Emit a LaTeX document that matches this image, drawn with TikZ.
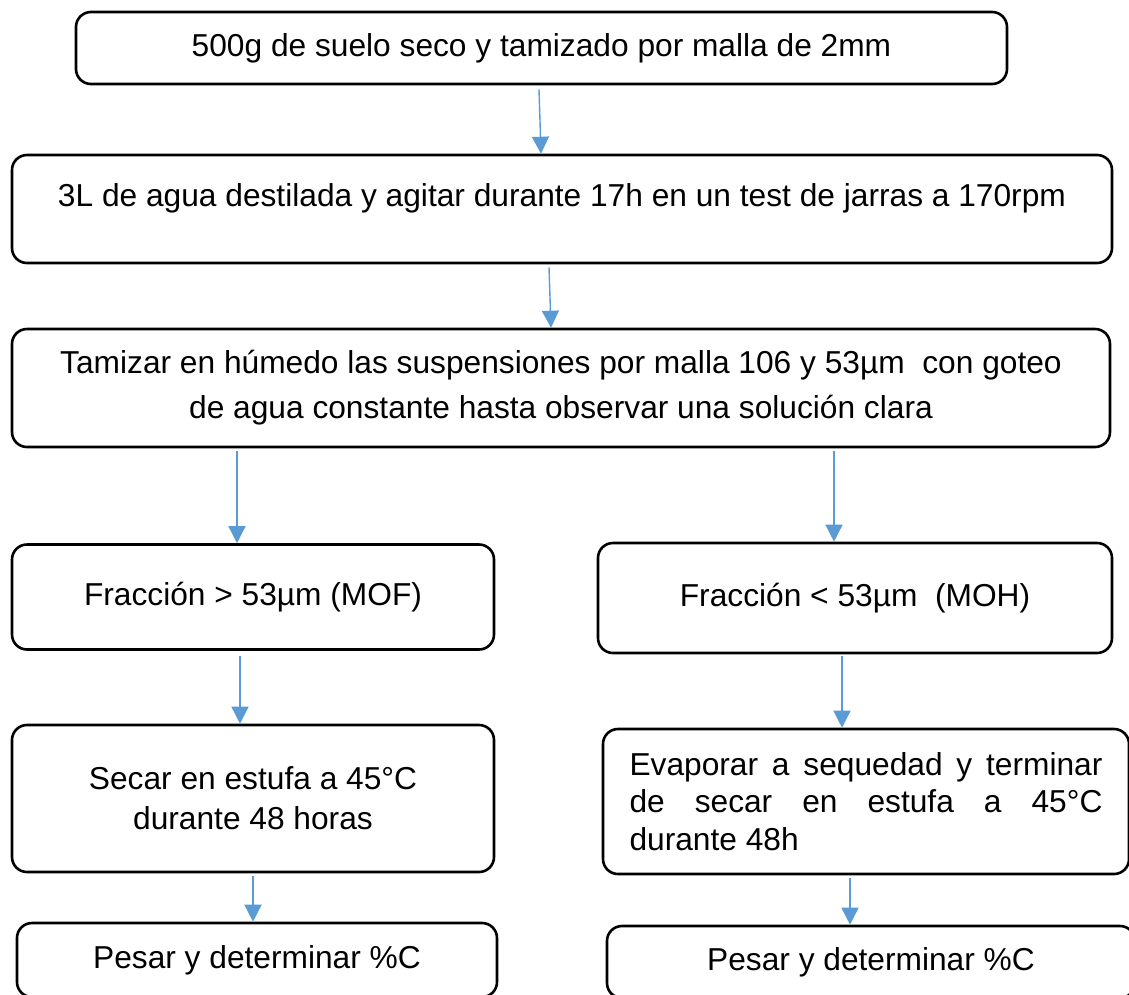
\documentclass[tikz,border=0pt]{standalone}
\usepackage{fontspec}
\setmainfont{Liberation Sans}
\usepackage[svgnames]{xcolor}
\usetikzlibrary{arrows.meta}
\usetikzlibrary{positioning}

\definecolor{arrowblue}{RGB}{91,155,213}

\begin{document}
\begin{tikzpicture}
          [x=1pt, y=-1pt,
           box/.style={draw, line width=2.6pt, rounded corners=15pt, inner sep=0pt,
                       font=\fontsize{31.7}{40}\selectfont, align=center},
           flow/.style={arrowblue, line width=1.4pt, -{Triangle[width=17pt,length=17pt]}}]
          \useasboundingbox (0,0) rectangle (1129,994);

          \node (b1) [box, minimum width=931pt, minimum height=72pt] at (541.5,48)
                {500g de suelo seco y tamizado por malla de 2mm};
          \node (b2) [box, minimum width=1100pt, minimum height=108pt] at (562,209)
                {\raisebox{11pt}[\height][\depth]{3L de agua destilada y agitar durante 17h en un test de jarras a 170rpm}};
          \node (b3) [box, minimum width=1098pt, minimum height=118pt,
                      font=\fontsize{31.7}{45}\selectfont] at (561,388)
                {Tamizar en húmedo las suspensiones por malla 106 y 53µm~ con goteo\\
                 de agua constante hasta observar una solución clara};

          \node (mof) [box, minimum width=482pt, minimum height=105pt] at (253,597)
                {Fracción > 53µm (MOF)};
          \node (moh) [box, minimum width=514pt, minimum height=110pt] at (855,598)
                {Fracción < 53µm~ (MOH)};

          \node (secl) [box, minimum width=482pt, minimum height=147pt] at (253,798.5)
                {Secar en estufa a 45°C\\durante 48 horas};
          \node (secr) [box, minimum width=526pt, minimum height=145pt, text width=473pt,
                        align=justify, font=\fontsize{31.7}{37.5}\selectfont] at (866,801.5)
                {Evaporar a sequedad y terminar\linebreak de secar en estufa a 45°C\linebreak durante 48h};

          \node (pesl) [box, minimum width=480pt, minimum height=74pt] at (257,960)
                {Pesar y determinar \%C};
          \node (pesr) [box, minimum width=528pt, minimum height=72pt] at (871,962)
                {Pesar y determinar \%C};

          \draw[flow] ([xshift=-2.5pt,yshift=-4pt]b1.south) -- ([xshift=-21pt]b2.north);
          \draw[flow] ([xshift=-13pt,yshift=-3pt]b2.south) -- ([xshift=-10pt]b3.north);
          \draw[flow] ([xshift=-324pt,yshift=-3pt]b3.south) -- ([xshift=-16pt]mof.north);
          \draw[flow] ([xshift=273pt,yshift=-3pt]b3.south) -- ([xshift=-21pt]moh.north);
          \draw[flow] ([xshift=-13pt,yshift=-5pt]mof.south) -- ([xshift=-13pt]secl.north);
          \draw[flow] ([xshift=-13pt,yshift=-2pt]moh.south) -- ([xshift=-24pt]secr.north);
          \draw[flow] ([yshift=-3pt]secl.south) -- ([xshift=-4pt]pesl.north);
          \draw[flow] ([xshift=-16pt,yshift=-3pt]secr.south) -- ([xshift=-21pt]pesr.north);
        \end{tikzpicture}
\end{document}
